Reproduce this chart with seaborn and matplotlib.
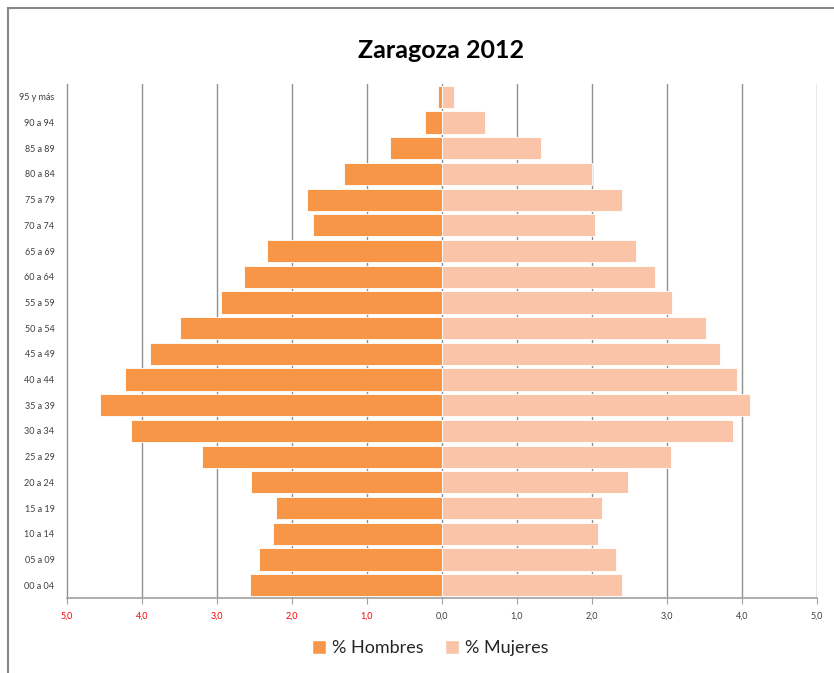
import numpy as np
import pandas as pd
import matplotlib.pyplot as plt
import seaborn as sns
from matplotlib.patches import Patch, Rectangle

# data (percent of population)
edades = ["95 y más", "90 a 94", "85 a 89", "80 a 84", "75 a 79", "70 a 74",
          "65 a 69", "60 a 64", "55 a 59", "50 a 54", "45 a 49", "40 a 44",
          "35 a 39", "30 a 34", "25 a 29", "20 a 24", "15 a 19", "10 a 14",
          "05 a 09", "00 a 04"]
hombres = [0.05, 0.23, 0.69, 1.31, 1.80, 1.72, 2.34, 2.64, 2.95, 3.50,
           3.90, 4.23, 4.56, 4.15, 3.20, 2.55, 2.21, 2.25, 2.44, 2.56]
mujeres = [0.16, 0.58, 1.32, 2.00, 2.40, 2.04, 2.59, 2.84, 3.07, 3.52,
           3.71, 3.93, 4.11, 3.88, 3.05, 2.48, 2.14, 2.08, 2.32, 2.40]
ticks = [-5, -4, -3, -2, -1, 0, 1, 2, 3, 4, 5]

c_h = "#F79646"
c_m = "#F9C4A8"

df = pd.DataFrame({"edad": edades,
                   "hombres": [-v for v in hombres],
                   "mujeres": mujeres})

sns.set_style("white")
plt.rcParams["font.family"] = ["Lato", "DejaVu Sans"]

fig = plt.figure(figsize=(8.34, 6.73), dpi=100)
ax = fig.add_axes([67/834, 1 - 598/673, 750/834, (598 - 84)/673])

sns.barplot(data=df, x="hombres", y="edad", order=edades, orient="h",
            color=c_h, saturation=1, width=0.86, edgecolor="white",
            linewidth=0.6, ax=ax, zorder=3)
sns.barplot(data=df, x="mujeres", y="edad", order=edades, orient="h",
            color=c_m, saturation=1, width=0.86, edgecolor="white",
            linewidth=0.6, ax=ax, zorder=3)

ax.set_xlim(-5, 5)
ax.set_ylim(len(edades) - 0.5, -0.5)
ax.set_xticks(ticks)
ax.set_xticklabels([f"{abs(t):.1f}".replace(".", ",") for t in ticks],
                   fontsize=6.5)
for lab, t in zip(ax.get_xticklabels(), ticks):
    lab.set_color("#FF0000" if t < 0 else "#404040")
ax.tick_params(axis="y", labelsize=6.5, labelcolor="#404040", length=0, pad=9)
ax.tick_params(axis="x", length=4, color="#a0a0a0", direction="out",
               pad=6, bottom=True)
ax.set_xlabel("")
ax.set_ylabel("")

for t in ticks[1:]:
    ax.axvline(t, color="#909090", lw=1, zorder=1)

for s in ["top", "right"]:
    ax.spines[s].set_visible(False)
ax.spines["left"].set_color("#909090")
ax.spines["bottom"].set_color("#a0a0a0")
ax.spines["left"].set_linewidth(1)
ax.spines["bottom"].set_linewidth(1.2)

fig.text(441/834, 1 - 50/673, "Zaragoza 2012", ha="center", va="center",
         fontsize=18, fontweight="bold", color="black")

handles = [Patch(facecolor=c_h, label="% Hombres"),
           Patch(facecolor=c_m, label="% Mujeres")]
fig.legend(handles=handles, loc="center", bbox_to_anchor=(430/834, 1 - 648/673),
           ncol=2, frameon=False, fontsize=13, handlelength=0.8,
           handleheight=0.8, handletextpad=0.3, columnspacing=1.2)

# outer chart border
fig.add_artist(Rectangle((8/834, -0.1), 1.2, 1 - 8/673 + 0.1,
                         transform=fig.transFigure, fill=False,
                         edgecolor="#888888", lw=1.5, clip_on=False))

fig.savefig("out.png", dpi=100, facecolor="white")
